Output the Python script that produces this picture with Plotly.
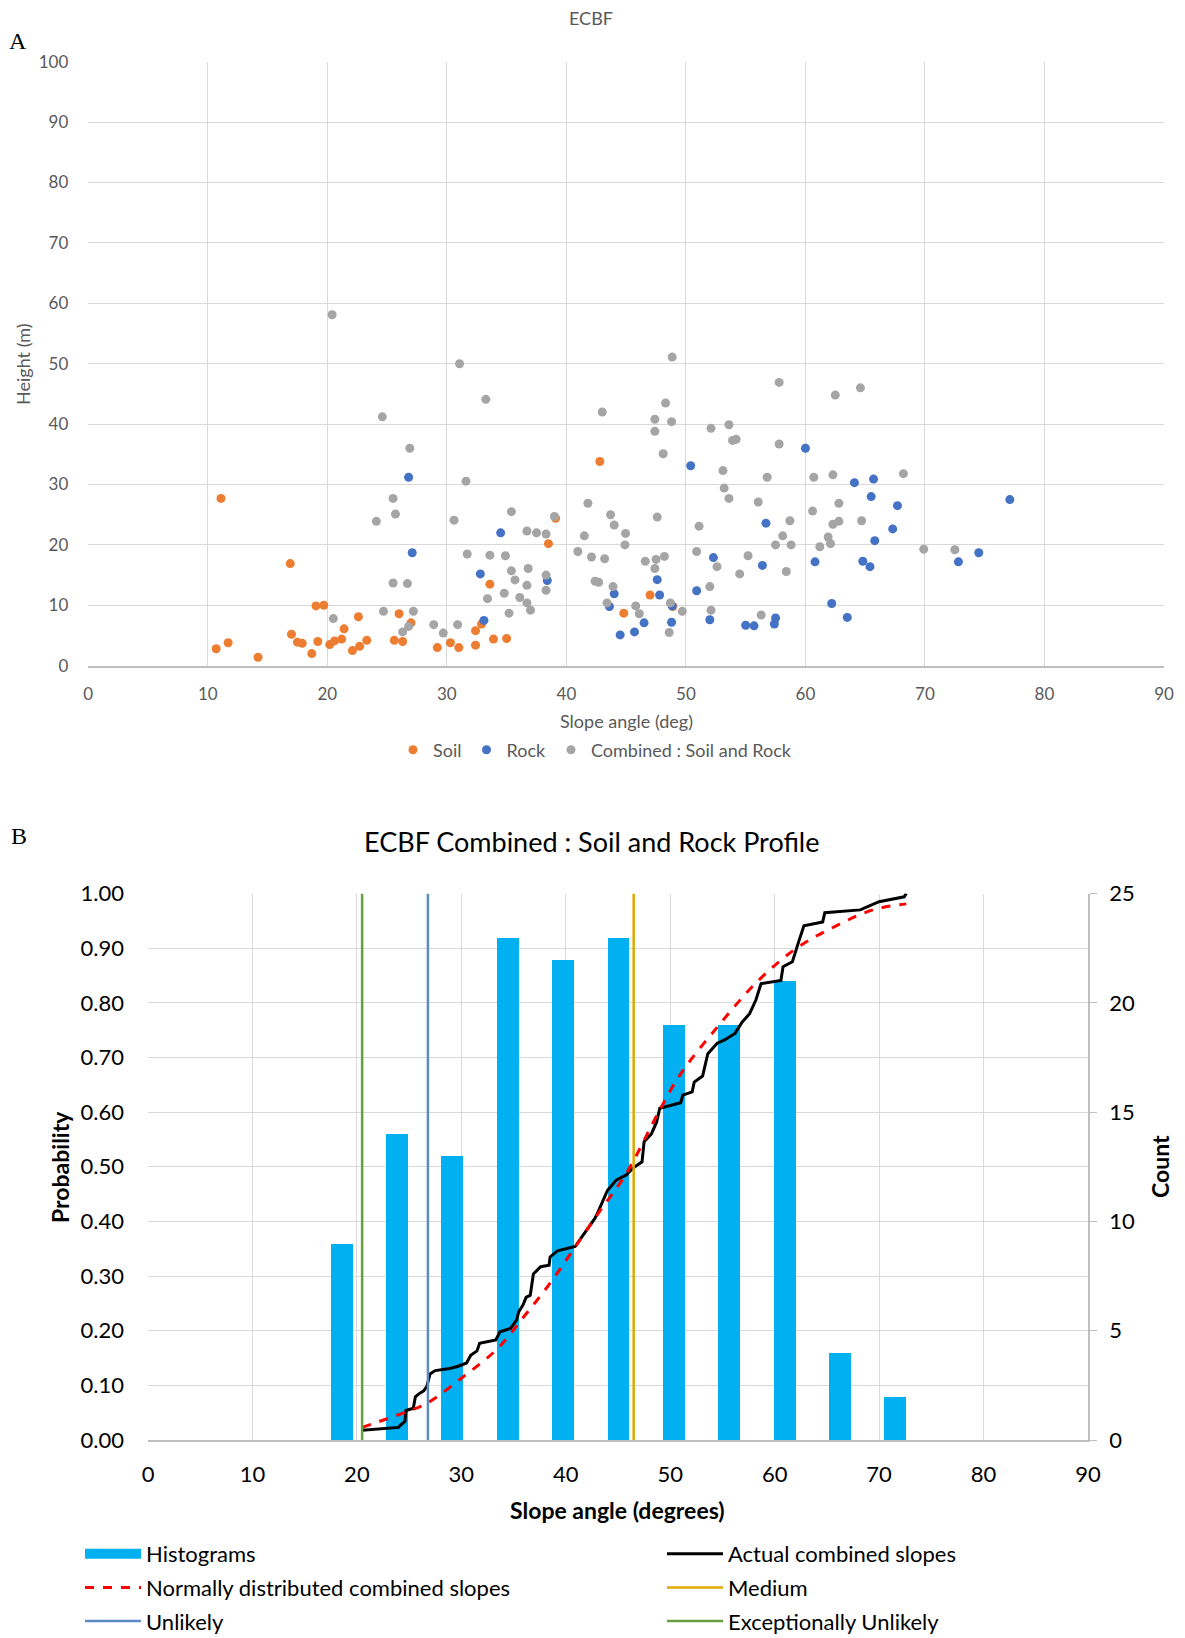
import plotly.graph_objects as go

# ---- panel A: slope angle vs height ----
soil_x = [11.1, 16.9, 19.05, 19.7, 17.0, 17.5, 17.9, 19.2, 18.7, 10.7, 11.7, 14.2, 20.2, 20.6, 21.2,
          21.4, 22.6, 22.1, 22.7, 23.3, 25.6, 26.3, 26.0, 27.0, 29.2, 30.3, 31.0, 32.4, 32.9, 32.4,
          33.9, 35.0, 33.6, 38.5, 39.1, 42.8, 47.0, 44.8, 48.9]
soil_y = [27.7, 16.9, 9.9, 10.0, 5.2, 3.9, 3.7, 4.0, 2.0, 2.8, 3.8, 1.4, 3.5, 4.1, 4.4,
          6.1, 8.1, 2.5, 3.2, 4.2, 4.2, 4.0, 8.6, 7.1, 3.0, 3.8, 3.0, 5.8, 6.9, 3.4,
          4.4, 4.5, 13.5, 20.2, 24.4, 33.8, 11.7, 8.7, 9.8]

rock_x = [26.8, 27.1, 34.5, 32.8, 38.4, 33.1, 60.0, 50.4, 64.1, 65.7, 65.5, 67.7, 77.1, 56.7,
          67.3, 65.8, 52.3, 56.4, 60.8, 64.8, 65.4, 72.8, 74.5, 47.6, 44.0, 47.8, 43.6, 50.9,
          62.2, 63.5, 48.85, 46.5, 48.8, 52.0, 57.5, 57.4, 55.0, 55.7, 45.7, 44.5]
rock_y = [31.2, 18.7, 22.0, 15.2, 14.1, 7.5, 36.0, 33.1, 30.3, 30.9, 28.0, 26.5, 27.5, 23.6,
          22.65, 20.7, 17.9, 16.6, 17.2, 17.3, 16.4, 17.2, 18.7, 14.25, 11.9, 11.7, 9.8, 12.4,
          10.3, 8.0, 9.9, 7.1, 7.2, 7.6, 7.9, 6.9, 6.7, 6.6, 5.6, 5.1]

comb_x = [20.4, 31.06, 33.26, 24.6, 26.9, 31.6, 25.5, 25.7, 24.1, 30.6, 35.4, 39.0, 36.7, 37.5,
          38.3, 31.7, 33.6, 34.9, 35.4, 36.8, 35.7, 36.7, 38.3, 38.3, 33.4, 34.8, 36.1, 36.7,
          37.0, 35.2, 25.5, 26.7, 24.7, 27.2, 20.5, 28.9, 29.7, 30.9, 26.8, 26.3,
          48.85, 57.8, 64.6, 62.5, 43.0, 48.3, 47.4, 48.8, 47.4, 52.1, 53.6, 53.9, 54.2, 57.8,
          48.1, 53.1, 56.8, 60.7, 62.3, 68.2, 53.2, 53.6, 56.05, 41.8, 43.7, 44.0, 47.6, 62.8,
          60.6, 62.3, 62.8, 64.7, 58.7, 58.1, 57.5, 58.8, 61.9, 62.1, 61.2, 51.1, 44.95, 44.9,
          41.5, 40.96, 42.1, 43.2, 46.6, 47.5, 48.2, 47.4, 50.9, 55.2, 52.6, 54.5, 58.4, 69.9,
          72.5, 42.4, 42.7, 43.9, 52.0, 43.4, 45.8, 46.1, 48.7, 49.7, 52.1, 56.3, 48.6]
comb_y = [58.1, 50.0, 44.1, 41.2, 36.0, 30.55, 27.7, 25.1, 23.9, 24.1, 25.5, 24.7, 22.3, 22.0,
          21.8, 18.5, 18.3, 18.2, 15.7, 16.1, 14.2, 13.3, 15.0, 12.5, 11.1, 12.0, 11.3, 10.4,
          9.2, 8.7, 13.7, 13.6, 9.0, 9.0, 7.8, 6.8, 5.4, 6.8, 6.5, 5.6,
          51.1, 46.9, 46.0, 44.8, 42.0, 43.5, 40.8, 40.4, 38.8, 39.3, 39.9, 37.3, 37.5, 36.7,
          35.1, 32.3, 31.2, 31.2, 31.6, 31.8, 29.4, 27.7, 27.1, 26.9, 25.0, 23.3, 24.6, 26.9,
          25.6, 23.4, 23.9, 24.0, 24.0, 21.5, 20.0, 20.0, 21.3, 20.2, 19.7, 23.1, 21.9, 20.0,
          21.5, 18.9, 18.0, 17.7, 17.3, 17.6, 18.1, 16.1, 18.9, 18.2, 16.4, 15.2, 15.6, 19.3,
          19.2, 14.0, 13.8, 13.1, 13.1, 10.4, 9.9, 8.6, 10.4, 9.0, 9.2, 8.4, 5.5]

# ---- panel B: histogram + cumulative curves ----
bin_centres = [18.55, 23.85, 29.15, 34.45, 39.75, 45.05, 50.35, 55.65, 60.95, 66.25, 71.55]
bin_counts = [9, 14, 13, 23, 22, 23, 19, 19, 21, 4, 2]

actual_x = [20.5, 24.0, 24.15, 24.6, 24.7, 25.4, 25.6, 25.9, 26.4, 26.7, 27.0, 27.5, 28.9, 29.7,
            30.5, 30.9, 31.5, 31.75, 33.3, 33.7, 34.7, 35.3, 35.5, 35.9, 36.2, 36.6, 36.9, 37.6,
            38.4, 38.5, 39.2, 40.4, 40.9, 41.66, 42.2, 42.8, 43.1, 44.0, 44.85, 45.8, 46.4, 47.3,
            47.5, 48.2, 48.7, 49.0, 51.0, 51.2, 52.1, 52.3, 53.1, 53.6, 54.5, 55.2, 56.2, 56.9,
            57.6, 58.2, 58.7, 60.6, 60.8, 61.7, 62.3, 62.8, 64.6, 64.8, 68.2, 70.0, 72.4, 72.6]
actual_p = [0.018, 0.023, 0.027, 0.034, 0.054, 0.058, 0.079, 0.084, 0.090, 0.098, 0.121, 0.127,
            0.131, 0.135, 0.141, 0.155, 0.163, 0.177, 0.183, 0.198, 0.204, 0.220, 0.235, 0.247,
            0.261, 0.265, 0.304, 0.317, 0.320, 0.335, 0.346, 0.351, 0.354, 0.375, 0.390, 0.406,
            0.418, 0.457, 0.476, 0.485, 0.497, 0.509, 0.546, 0.560, 0.582, 0.607, 0.617, 0.631,
            0.637, 0.655, 0.666, 0.707, 0.726, 0.732, 0.744, 0.765, 0.780, 0.805, 0.835, 0.841,
            0.866, 0.875, 0.912, 0.941, 0.948, 0.965, 0.970, 0.985, 0.994, 1.0]

normal_x = [20.5, 24.8, 26.7, 30.2, 33.4, 36.0, 38.5, 40.6, 43.3, 45.8, 49.0, 51.0, 54.7, 58.4,
            62.1, 65.8, 69.4, 72.6]
normal_p = [0.023, 0.052, 0.067, 0.116, 0.166, 0.226, 0.287, 0.345, 0.420, 0.488, 0.604, 0.670,
            0.760, 0.840, 0.900, 0.940, 0.970, 0.981]

medium = 46.5
unlikely = 26.8
exc_unlikely = 20.5

# the page puts the figure 8px in from the top-left corner of the window
OFF = 8
W, H = 1185 - OFF, 1638 - OFF
FONT = "Lato"
GREY_TXT = "#595959"
GRID = "#D9D9D9"
HIST_COL = "#00B0F0"


def px(x):
    return (x - OFF) / W


def py(y):
    return 1 - (y - OFF) / H


fig = go.Figure()

fig.add_trace(go.Scatter(x=soil_x, y=soil_y, mode="markers", name="Soil",
                         marker=dict(color="#ED7D31", size=9), xaxis="x", yaxis="y"))
fig.add_trace(go.Scatter(x=rock_x, y=rock_y, mode="markers", name="Rock",
                         marker=dict(color="#4472C4", size=9), xaxis="x", yaxis="y"))
fig.add_trace(go.Scatter(x=comb_x, y=comb_y, mode="markers", name="Combined : Soil and Rock",
                         marker=dict(color="#A5A5A5", size=9), xaxis="x", yaxis="y"))

# left legend column: legend2, right column: legend3
fig.add_trace(go.Bar(x=bin_centres, y=bin_counts, width=2.1, name="Histograms",
                     marker=dict(color=HIST_COL, line=dict(width=0)), showlegend=False,
                     xaxis="x2", yaxis="y2", legend="legend2", legendgroup="h"))
# wide swatch for the histogram legend entry (Excel style)
fig.add_trace(go.Scatter(x=[None], y=[None], mode="lines", name="Histograms",
                         line=dict(color=HIST_COL, width=14), xaxis="x2", yaxis="y2",
                         legend="legend2", legendgroup="h"))
fig.add_trace(go.Scatter(x=actual_x, y=actual_p, mode="lines", name="Actual combined slopes",
                         line=dict(color="black", width=3), xaxis="x2", yaxis="y3",
                         legend="legend3", legendgroup="a"))
fig.add_trace(go.Scatter(x=normal_x, y=normal_p, mode="lines", name="Normally distributed combined slopes",
                         line=dict(color="#FF0000", width=3, dash="dash", shape="spline"),
                         xaxis="x2", yaxis="y3", legend="legend2", legendgroup="n"))
for val, nm, col, lg in [(medium, "Medium", "#E0A800", "legend3"),
                         (unlikely, "Unlikely", "#5B8BC5", "legend2"),
                         (exc_unlikely, "Exceptionally Unlikely", "#64A03C", "legend3")]:
    fig.add_trace(go.Scatter(x=[val, val], y=[0, 1], mode="lines", name=nm,
                             line=dict(color=col, width=2.5), xaxis="x2", yaxis="y3",
                             legend=lg, legendgroup=nm))

ann = [
    dict(text="A", x=px(18), y=py(41), font=dict(family="Liberation Serif", size=24, color="black")),
    dict(text="ECBF", x=px(591), y=py(18), font=dict(size=18, color=GREY_TXT)),
    dict(text="Height (m)", x=px(23), y=py(364), textangle=-90, font=dict(size=18, color=GREY_TXT)),
    dict(text="Slope angle (deg)", x=px(626), y=py(721), font=dict(size=18, color=GREY_TXT)),
    dict(text="B", x=px(19), y=py(836), font=dict(family="Liberation Serif", size=24, color="black")),
    dict(text="ECBF Combined : Soil and Rock Profile", x=px(591), y=py(841),
         font=dict(size=27, color="black")),
    dict(text="<b>Probability</b>", x=px(60), y=py(1167), textangle=-90, font=dict(size=23, color="black")),
    dict(text="<b>Count</b>", x=px(1160), y=py(1167), textangle=-90, font=dict(size=23, color="black")),
    dict(text="<b>Slope angle (degrees)</b>", x=px(617), y=py(1510), font=dict(size=23, color="black")),
]
for a in ann:
    a.update(xref="paper", yref="paper", showarrow=False, xanchor="center", yanchor="middle")
    a["font"].setdefault("family", FONT)

leg_common = dict(orientation="v", xanchor="left", yanchor="top", font=dict(size=22, color="black"),
                  bgcolor="rgba(0,0,0,0)", itemwidth=56, tracegroupgap=2, traceorder="grouped")

fig.update_layout(
    width=W, height=H,
    margin=dict(l=0, r=0, t=0, b=0, autoexpand=False),
    paper_bgcolor="white", plot_bgcolor="white",
    font=dict(family=FONT, color=GREY_TXT),
    annotations=ann,
    bargap=0,
    xaxis=dict(domain=[px(88.3), px(1164)], range=[0, 90], dtick=10, anchor="y",
               showgrid=True, gridcolor=GRID, gridwidth=1, zeroline=False,
               showline=True, linecolor="#BFBFBF", linewidth=1.5,
               tickfont=dict(size=17, color=GREY_TXT), ticks="", ticklabelstandoff=12),
    yaxis=dict(domain=[py(665.7), py(61.7)], range=[0, 100], dtick=10, anchor="x",
               showgrid=True, gridcolor=GRID, zeroline=False, showline=False,
               tickfont=dict(size=17, color=GREY_TXT), ticks="", ticklabelstandoff=19),
    xaxis2=dict(domain=[px(148), px(1088)], range=[0, 90], dtick=10, anchor="y2",
                showgrid=True, gridcolor=GRID, zeroline=False,
                showline=True, linecolor="#BFBFBF", linewidth=1.5,
                tickfont=dict(size=22, color="black"), ticks="", ticklabelstandoff=14),
    yaxis2=dict(domain=[py(1440), py(893.5)], range=[0, 25], tickvals=[0, 5, 10, 15, 20, 25],
                side="right", anchor="x2", showgrid=False, zeroline=False,
                showline=True, linecolor="#BFBFBF", linewidth=1.5,
                ticks="outside", ticklen=7, tickcolor="#BFBFBF",
                tickfont=dict(size=22, color="black"), ticklabelstandoff=8),
    yaxis3=dict(range=[0, 1], dtick=0.1, tickformat=".2f", overlaying="y2", side="left", anchor="x2",
                showgrid=True, gridcolor=GRID, zeroline=False, showline=False,
                tickfont=dict(size=22, color="black"), ticks="", ticklabelstandoff=23),
    legend=dict(orientation="h", x=px(595), y=py(750), xanchor="center", yanchor="middle",
                font=dict(size=18, color=GREY_TXT), bgcolor="rgba(0,0,0,0)", itemwidth=30,
                traceorder="normal"),
    legend2=dict(x=px(80), y=py(1533), **leg_common),
    legend3=dict(x=px(662), y=py(1533), **leg_common),
)

fig.write_html("out.html")
